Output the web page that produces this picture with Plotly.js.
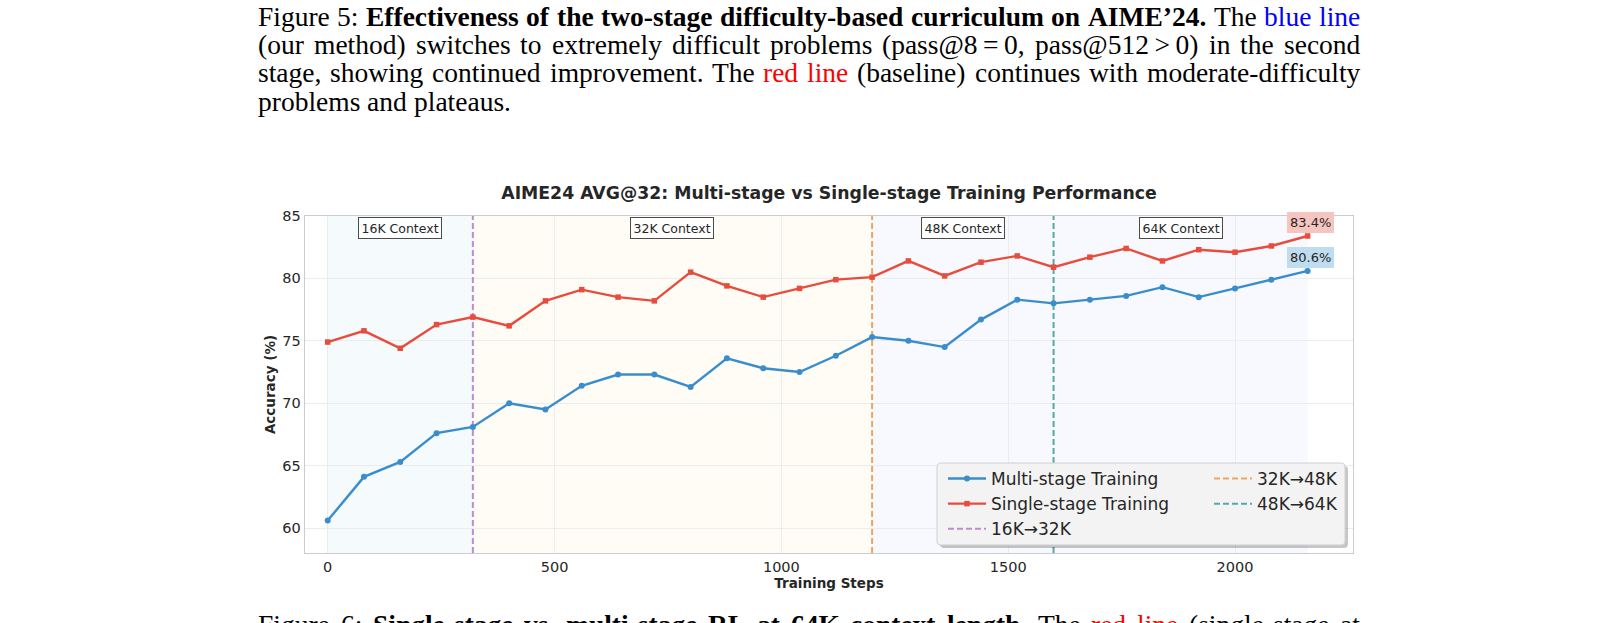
<!DOCTYPE html>
<html>
<head>
<meta charset="utf-8">
<script src="https://cdn.plot.ly/plotly-3.0.1.min.js"></script>
<style>
  html, body { margin: 0; padding: 0; background: #ffffff; }
  #chart { width: 1618px; height: 623px; }
</style>
</head>
<body>
<div id="chart"></div>
<script>
// ---- Data -------------------------------------------------------------
const steps = [0, 80, 160, 240, 320, 400, 480, 560, 640, 720, 800, 880, 960, 1040,
               1120, 1200, 1280, 1360, 1440, 1520, 1600, 1680, 1760, 1840, 1920, 2000, 2080, 2160];

// AIME24 AVG@32 accuracy (%)
const multiStage = [60.6, 64.1, 65.3, 67.6, 68.1, 70.0, 69.5, 71.4, 72.3, 72.3, 71.3, 73.6, 72.8, 72.5,
                    73.8, 75.3, 75.0, 74.5, 76.7, 78.3, 78.0, 78.3, 78.6, 79.3, 78.5, 79.2, 79.9, 80.6];
const singleStage = [74.9, 75.8, 74.4, 76.3, 76.9, 76.2, 78.2, 79.1, 78.5, 78.2, 80.5, 79.4, 78.5, 79.2,
                     79.9, 80.1, 81.4, 80.2, 81.3, 81.8, 80.9, 81.7, 82.4, 81.4, 82.3, 82.1, 82.6, 83.4];

// Context-length switches and labels
const stageSwitches = [320, 1200, 1600];
const switchLabels = ['16K\u219232K', '32K\u219248K', '48K\u219264K'];
const contextLabels = ['16K Context', '32K Context', '48K Context', '64K Context'];

const xTicks = [0, 500, 1000, 1500, 2000];
const yTicks = [60, 65, 70, 75, 80, 85];
const xRange = [-50, 2260];
const yRange = [58, 85];

// ---- Caption text (runs: [text, style]) --------------------------------
// U+2009 gives the relation symbols a little math-mode spacing
const figure5Lines = [
  [['Figure 5:', 'n'], ['Effectiveness of the two-stage difficulty-based curriculum on AIME\u201924.', 'b'], ['The', 'n'], ['blue line', 'blue']],
  [['(our method) switches to extremely difficult problems (pass@8\u2009=\u20090, pass@512\u2009>\u20090) in the second', 'n']],
  [['stage, showing continued improvement. The', 'n'], ['red line', 'red'], ['(baseline) continues with moderate-difficulty', 'n']],
  [['problems and plateaus.', 'n']]
];
const figure6Lines = [
  [['Figure 6:', 'n'], ['Single-stage vs. multi-stage RL at 64K context length.', 'b'], ['The', 'n'], ['red line', 'red'], ['(single-stage at', 'n']]
];

// ---- Styling ----------------------------------------------------------
const W = 1618, H = 623;
const M = { l: 305, r: 265, t: 216, b: 70 };
const PW = W - M.l - M.r, PH = H - M.t - M.b;
const px2x = px => (px - M.l) / PW;
const py2y = py => (H - M.b - py) / PH;

const FONT = 'DejaVu Sans';
const TEXT = '#262626';
const BLUE = '#3a8dcc';
const RED = '#e74c3c';
const switchColors = ['#bd8cd0', '#eea564', '#56a9a9'];
const regionColors = ['#f5fafd', '#fefcf5', '#f8f9fe', '#f8f9fe'];

// ---- Traces -----------------------------------------------------------
const traces = [];

stageSwitches.forEach((s, i) => {
  traces.push({
    x: [s, s], y: yRange, type: 'scatter', mode: 'lines',
    name: switchLabels[i],
    line: { color: switchColors[i], width: 2, dash: '6px,3px' },
    legend: i === 0 ? 'legend' : 'legend2',
    legendgroup: 'sw' + i, legendrank: 10 + i,
    hoverinfo: 'skip'
  });
});

traces.push({
  x: steps, y: singleStage, type: 'scatter', mode: 'lines+markers',
  name: 'Single-stage Training',
  line: { color: RED, width: 2.4 },
  marker: { symbol: 'square', size: 5.5, color: RED },
  legend: 'legend', legendgroup: 'single', legendrank: 2
});
traces.push({
  x: steps, y: multiStage, type: 'scatter', mode: 'lines+markers',
  name: 'Multi-stage Training',
  line: { color: BLUE, width: 2.4 },
  marker: { symbol: 'circle', size: 6, color: BLUE },
  legend: 'legend', legendgroup: 'multi', legendrank: 1
});

// ---- Shapes: shaded context regions + legend frame ---------------------
const regionEdges = [steps[0], ...stageSwitches, steps[steps.length - 1]];
const shapes = [];
for (let i = 0; i < regionEdges.length - 1; i++) {
  shapes.push({
    type: 'rect', xref: 'x', yref: 'y domain',
    x0: regionEdges[i], x1: regionEdges[i + 1], y0: 0, y1: 1,
    fillcolor: regionColors[i], line: { width: 0 }, layer: 'below'
  });
}

function roundedRect(x0, y0, x1, y1, r) {
  const X = v => px2x(v).toFixed(5), Y = v => py2y(v).toFixed(5);
  return `M${X(x0 + r)},${Y(y0)} L${X(x1 - r)},${Y(y0)} Q${X(x1)},${Y(y0)} ${X(x1)},${Y(y0 + r)} ` +
         `L${X(x1)},${Y(y1 - r)} Q${X(x1)},${Y(y1)} ${X(x1 - r)},${Y(y1)} ` +
         `L${X(x0 + r)},${Y(y1)} Q${X(x0)},${Y(y1)} ${X(x0)},${Y(y1 - r)} ` +
         `L${X(x0)},${Y(y0 + r)} Q${X(x0)},${Y(y0)} ${X(x0 + r)},${Y(y0)} Z`;
}
const LG = { x0: 937, y0: 463, x1: 1345, y1: 545 };
shapes.push({
  type: 'path', xref: 'paper', yref: 'paper', layer: 'above',
  path: roundedRect(LG.x0 + 3, LG.y0 + 3, LG.x1 + 3, LG.y1 + 3, 4),
  fillcolor: 'rgba(0,0,0,0.22)', line: { width: 0 }
});
shapes.push({
  type: 'path', xref: 'paper', yref: 'paper', layer: 'above',
  path: roundedRect(LG.x0, LG.y0, LG.x1, LG.y1, 4),
  fillcolor: '#f3f3f3', line: { color: '#d0d0d0', width: 1 }
});

// ---- Annotations --------------------------------------------------------
const annotations = [];

contextLabels.forEach((label, i) => {
  annotations.push({
    xref: 'x', yref: 'y', x: (regionEdges[i] + regionEdges[i + 1]) / 2, y: 84,
    text: label, showarrow: false, xanchor: 'center', yanchor: 'middle',
    font: { family: FONT, size: 12.5, color: TEXT },
    bgcolor: 'rgba(255,255,255,0.85)', bordercolor: '#4a4a4a', borderwidth: 1, borderpad: 2.5
  });
});

const last = steps.length - 1;
[[singleStage, '#f6c5c0'], [multiStage, '#c0dcf0']].forEach(([series, bg]) => {
  annotations.push({
    xref: 'x', yref: 'y', x: steps[last], y: series[last],
    text: series[last].toFixed(1) + '%', showarrow: false,
    xanchor: 'center', yanchor: 'bottom', xshift: 3, yshift: 3,
    font: { family: FONT, size: 13, color: TEXT },
    bgcolor: bg, bordercolor: bg, borderwidth: 1, borderpad: 2
  });
});

// Justified caption text, laid out word by word
const CAP = { left: 258, right: 1360, size: 27.5, family: 'Liberation Serif' };
const measureCtx = document.createElement('canvas').getContext('2d');
function wordWidth(word, style) {
  measureCtx.font = (style === 'b' ? 'bold ' : '') + CAP.size + 'px "' + CAP.family + '"';
  return measureCtx.measureText(word).width;
}
const styleColor = { n: '#000000', b: '#000000', blue: '#0000ff', red: '#ff0000' };
const esc = s => s.replace(/&/g, '&amp;').replace(/</g, '&lt;').replace(/>/g, '&gt;');

function addCaption(lines, firstCenterY, lineStep, justifyAll) {
  lines.forEach((runs, li) => {
    const tokens = [];
    runs.forEach(([text, style]) => text.split(' ').filter(Boolean)
      .forEach(w => tokens.push({ w, style, width: wordWidth(w, style) })));
    const total = tokens.reduce((s, t) => s + t.width, 0);
    const justify = justifyAll || li < lines.length - 1;
    const gap = justify ? (CAP.right - CAP.left - total) / (tokens.length - 1) : wordWidth(' ', 'n');
    const cy = firstCenterY + li * lineStep;
    let x = CAP.left;
    tokens.forEach(t => {
      annotations.push({
        xref: 'paper', yref: 'paper', x: px2x(x), y: py2y(cy),
        xanchor: 'left', yanchor: 'middle', showarrow: false,
        borderpad: 0, borderwidth: 0, text: esc(t.w),
        font: { family: CAP.family, size: CAP.size, color: styleColor[t.style],
                weight: t.style === 'b' ? 'bold' : 'normal' }
      });
      x += t.width + gap;
    });
  });
}
addCaption(figure5Lines, 17, 28, false);
addCaption(figure6Lines, 624, 28, true);

// ---- Layout -------------------------------------------------------------
const legendCommon = {
  xanchor: 'left', yanchor: 'top', bgcolor: 'rgba(0,0,0,0)', borderwidth: 0,
  font: { family: FONT, size: 17, color: TEXT }, itemwidth: 38,
  traceorder: 'grouped', tracegroupgap: 0, itemclick: false, itemdoubleclick: false
};

const layout = {
  width: W, height: H,
  margin: M,
  paper_bgcolor: '#ffffff', plot_bgcolor: '#ffffff',
  showlegend: true,
  hovermode: false,
  title: {
    text: 'AIME24 AVG@32: Multi-stage vs Single-stage Training Performance',
    x: 0.5, xref: 'paper', xanchor: 'center',
    y: 1 - 193 / H, yref: 'container', yanchor: 'middle',
    font: { family: FONT, size: 17.3, weight: 'bold', color: TEXT }
  },
  xaxis: {
    range: xRange, tickvals: xTicks, ticks: '',
    showgrid: true, gridcolor: '#ececec', gridwidth: 1, zeroline: false,
    showline: true, linecolor: '#cccccc', linewidth: 1.3, mirror: true,
    tickfont: { family: FONT, size: 14.5, color: TEXT },
    title: { text: 'Training Steps', standoff: 0, font: { family: FONT, size: 13.5, weight: 'bold', color: TEXT } },
    automargin: false
  },
  yaxis: {
    range: yRange, tickvals: yTicks, ticks: '',
    showgrid: true, gridcolor: '#ececec', gridwidth: 1, zeroline: false,
    showline: true, linecolor: '#cccccc', linewidth: 1.3, mirror: true,
    tickfont: { family: FONT, size: 14.5, color: TEXT },
    title: { text: 'Accuracy (%)', standoff: 3, font: { family: FONT, size: 13.5, weight: 'bold', color: TEXT } },
    automargin: false
  },
  legend: Object.assign({ x: px2x(943), y: py2y(461) }, legendCommon),
  legend2: Object.assign({ x: px2x(1209), y: py2y(461) }, legendCommon),
  shapes: shapes,
  annotations: annotations
};

Plotly.newPlot('chart', traces, layout, { displayModeBar: false, staticPlot: true });
</script>
</body>
</html>
